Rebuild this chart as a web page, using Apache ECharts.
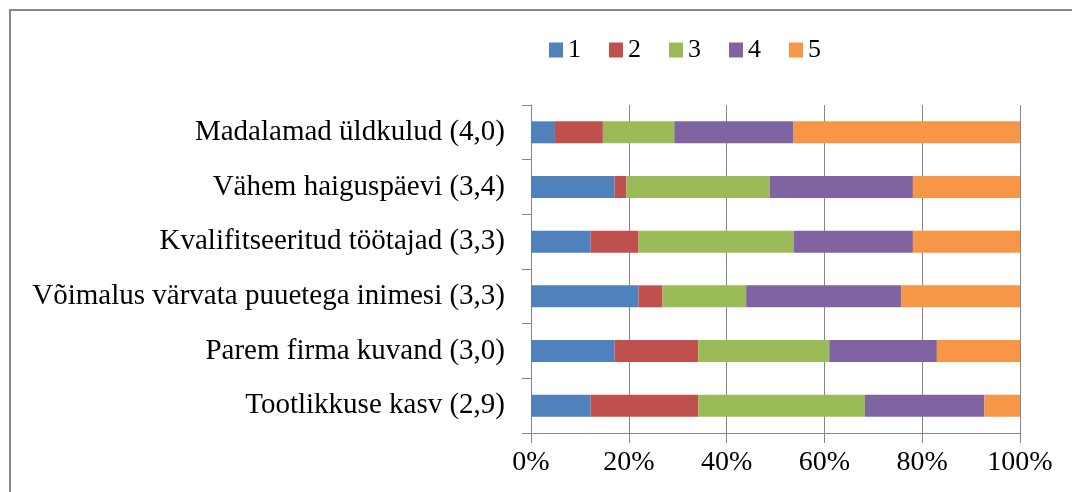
<!DOCTYPE html>
<html>
<head>
<meta charset="utf-8">
<script src="https://cdn.jsdelivr.net/npm/echarts@6/dist/echarts.min.js"></script>
<style>
  html, body { margin: 0; padding: 0; background: #fff; }
  #chart { width: 1072px; height: 492px; }
</style>
</head>
<body>
<div id="chart"></div>
<script>
// categories, top to bottom
var categories = [
    'Madalamad üldkulud (4,0)',
    'Vähem haiguspäevi (3,4)',
    'Kvalifitseeritud töötajad (3,3)',
    'Võimalus värvata puuetega inimesi (3,3)',
    'Parem firma kuvand (3,0)',
    'Tootlikkuse kasv (2,9)'
];
var seriesNames = ['1', '2', '3', '4', '5'];

// share of answers, %
var score1 = [4.9, 17.1, 12.2, 22.0, 17.1, 12.2];
var score2 = [9.8, 2.4, 9.8, 4.9, 17.1, 22.0];
var score3 = [14.6, 29.3, 31.7, 17.1, 26.8, 34.1];
var score4 = [24.4, 29.3, 24.4, 31.7, 22.0, 24.4];
var score5 = [46.3, 21.9, 21.9, 24.3, 17.0, 7.3];

var xTicks = [0, 20, 40, 60, 80, 100];

(function() {
    'use strict';

    var font = "'Liberation Serif', 'Times New Roman', serif";
    var gray = '#868686';
    var colors = ['#4F81BD', '#C0504D', '#9BBB59', '#8064A2', '#F79646'];
    var values = [score1, score2, score3, score4, score5];

    var chart = echarts.init(document.getElementById('chart'));

    var series = seriesNames.map(function(name, i) {
        return {
            name: name,
            type: 'bar',
            stack: 'total',
            barWidth: 22,
            itemStyle: { color: colors[i] },
            data: values[i]
        };
    });

    chart.setOption({
        animation: false,
        color: colors,
        textStyle: { fontFamily: font, color: '#000' },
        graphic: [{
            type: 'rect',
            shape: { x: 10, y: 10, width: 1200, height: 700 },
            style: { fill: 'none', stroke: gray, lineWidth: 2 },
            silent: true
        }],
        legend: {
            left: 544,
            top: 32,
            itemWidth: 14,
            itemHeight: 15,
            itemGap: 28,
            icon: 'rect',
            textStyle: { fontFamily: font, fontSize: 26, color: '#000' },
            data: seriesNames
        },
        grid: { left: 531, right: 52, top: 105, bottom: 59 },
        xAxis: {
            type: 'value',
            min: xTicks[0],
            max: xTicks[xTicks.length - 1],
            interval: xTicks[1] - xTicks[0],
            axisLine: { show: true, lineStyle: { color: gray, width: 1 } },
            axisTick: { show: true, length: 10, lineStyle: { color: gray } },
            splitLine: { show: true, lineStyle: { color: gray, width: 1 } },
            axisLabel: {
                formatter: '{value}%',
                fontFamily: font,
                fontSize: 28,
                color: '#000',
                margin: 16
            }
        },
        yAxis: {
            type: 'category',
            inverse: true,
            data: categories,
            axisLine: { show: true, lineStyle: { color: gray, width: 1 } },
            axisTick: { show: true, length: 9, lineStyle: { color: gray } },
            axisLabel: {
                fontFamily: font,
                fontSize: 29,
                color: '#000',
                margin: 26
            }
        },
        series: series
    });
})();
</script>
</body>
</html>
